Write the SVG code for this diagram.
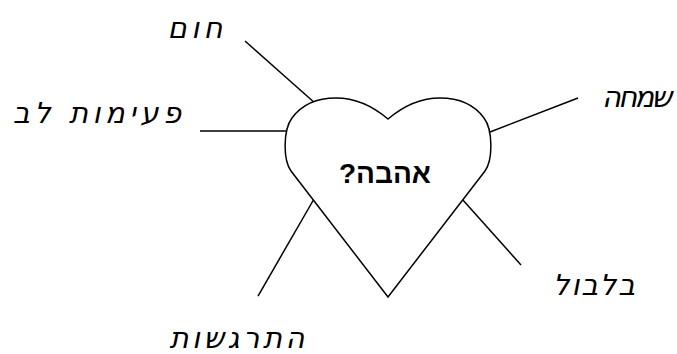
<svg xmlns="http://www.w3.org/2000/svg" width="677" height="354" viewBox="0 0 677 354">
<style>
.ln{stroke:#000;stroke-width:1.5;fill:none}
.lbl{font-family:"DejaVu Sans","Liberation Sans",sans-serif;font-style:italic;font-size:29px;fill:#000;text-anchor:middle;direction:rtl;unicode-bidi:embed}
.ctr{font-family:"Liberation Sans",Arial,sans-serif;font-weight:bold;font-size:28px;fill:#000;text-anchor:middle;direction:rtl;unicode-bidi:embed}
</style>
<rect width="677" height="354" fill="#fff"/>
<g id="connectors">
<line class="ln" x1="245" y1="41" x2="316" y2="104"/>
<line class="ln" x1="200" y1="131" x2="287" y2="131"/>
<line class="ln" x1="578" y1="98" x2="490" y2="132"/>
<line class="ln" x1="462" y1="199" x2="521" y2="265"/>
<line class="ln" x1="314" y1="199" x2="258" y2="296"/>
</g>
<g id="heart">
<path class="ln" style="fill:#fff" d="M388,297 L291,171 C283,160 283,130 292,118 C303,103 320,98 336,98 C358,98 375,108 388,119 C401,108 418,98 440,98 C456,98 473,103 484,118 C493,130 493,160 485,171 Z"/>
<text class="ctr" x="385" y="183" direction="rtl">אהבה?</text>
</g>
<g id="n-hom"><text class="lbl" x="195" y="38" direction="rtl" textLength="55" lengthAdjust="spacing">חום</text></g>
<g id="n-peimot"><text class="lbl" x="97" y="123" direction="rtl" textLength="168" lengthAdjust="spacing">פעימות לב</text></g>
<g id="n-simcha"><text class="lbl" x="637" y="107" direction="rtl" textLength="70" lengthAdjust="spacing">שמחה</text></g>
<g id="n-bilbul"><text class="lbl" x="594" y="295" direction="rtl" textLength="82" lengthAdjust="spacing">בלבול</text></g>
<g id="n-hitragshut"><text class="lbl" x="237" y="348" direction="rtl" textLength="135" lengthAdjust="spacing">התרגשות</text></g>
</svg>
